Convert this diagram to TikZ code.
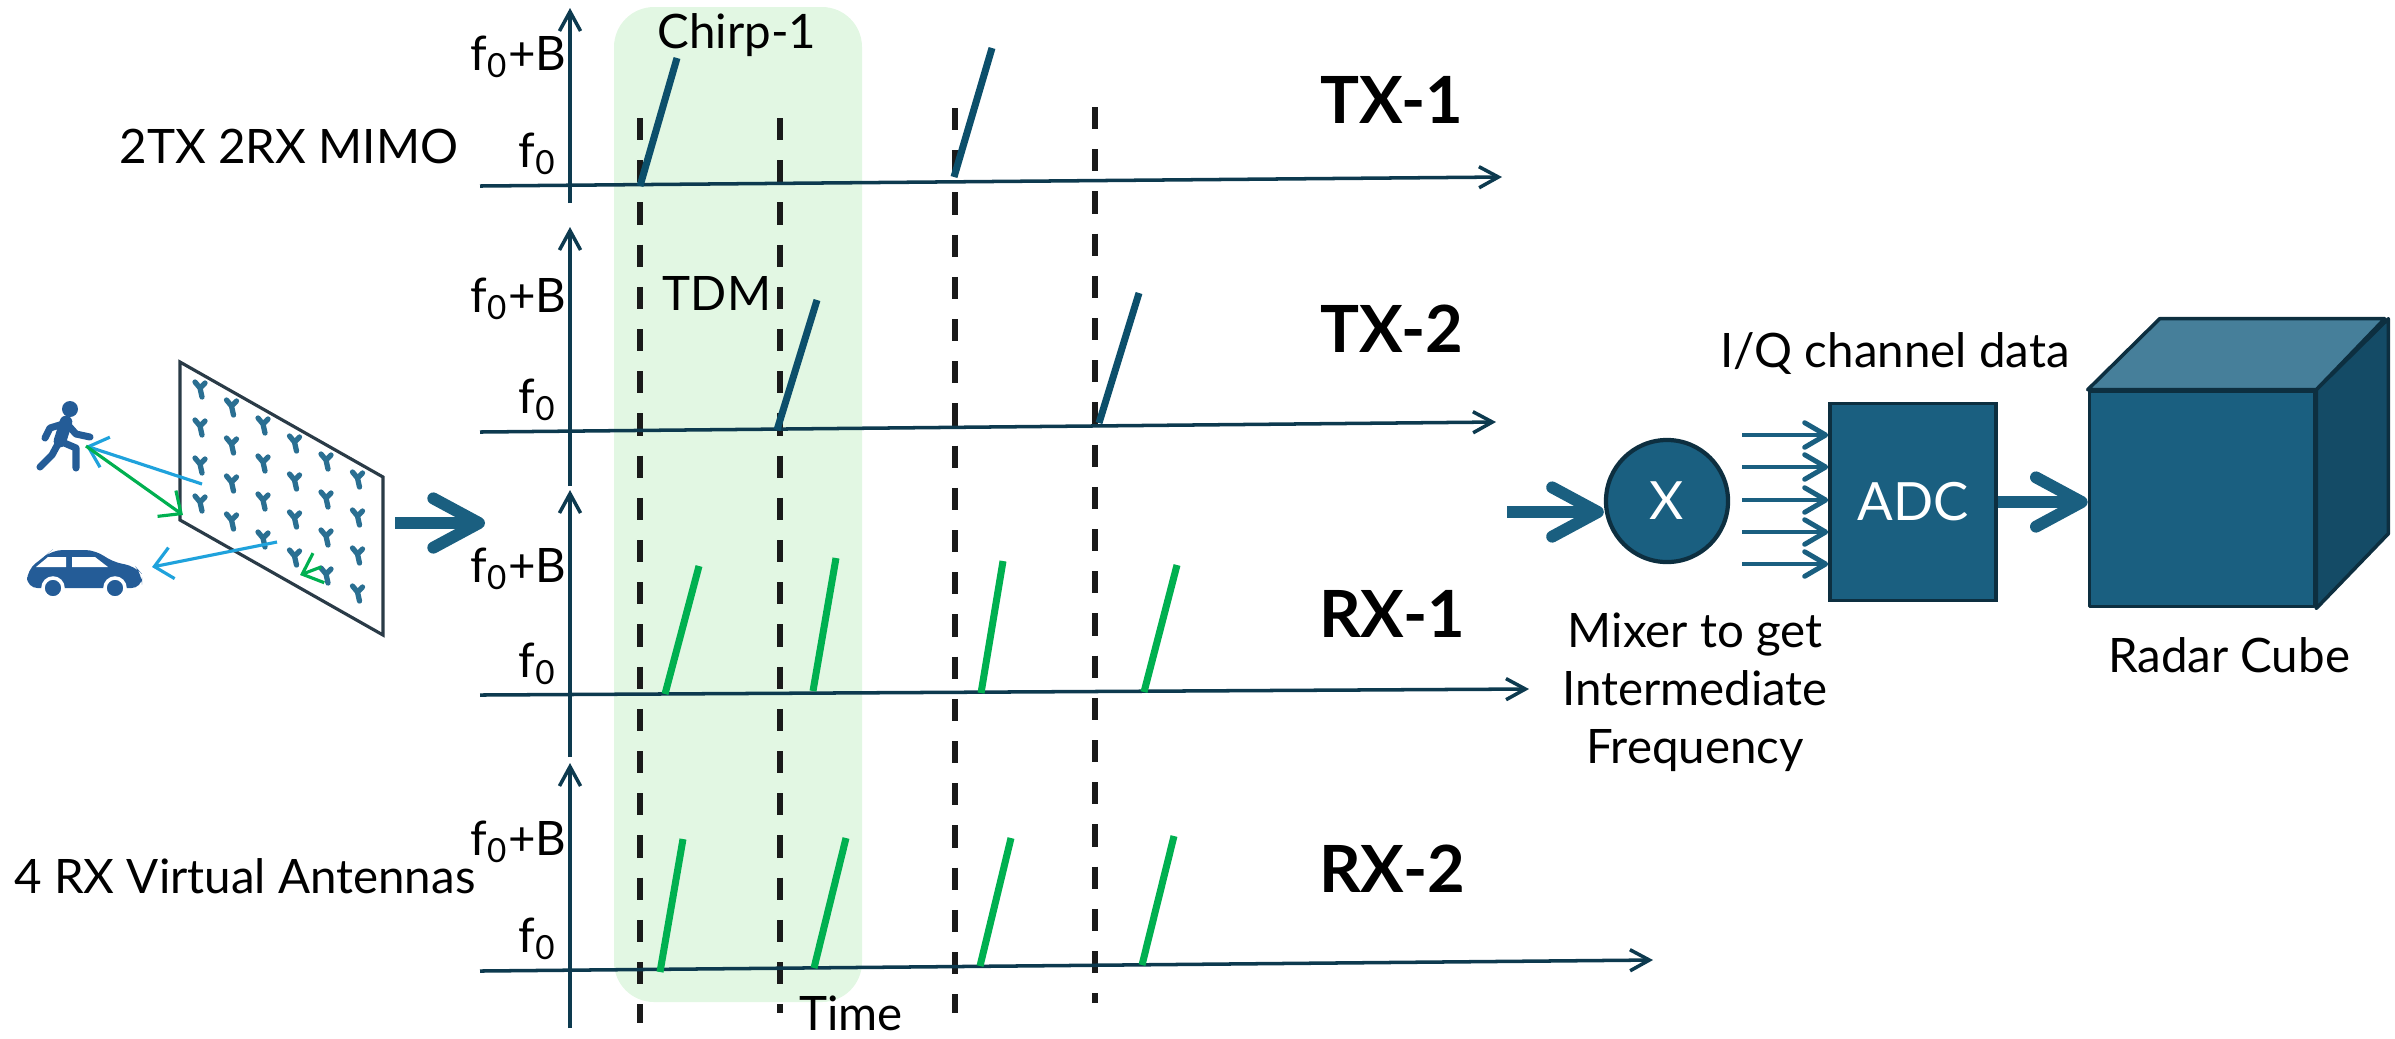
\documentclass[tikz,border=0pt]{standalone}
\usepackage{fontspec}
\setmainfont{Lato}
\usetikzlibrary{arrows.meta,positioning,calc}
\definecolor{axisblue}{HTML}{0D3A4F}
\definecolor{txramp}{HTML}{0C4F6B}
\definecolor{rxgreen}{HTML}{00B050}
\definecolor{blockblue}{HTML}{1A5F80}
\definecolor{blockedge}{HTML}{0D2F40}
\definecolor{cubetop}{HTML}{467F9A}
\definecolor{cubeside}{HTML}{144B66}
\definecolor{chirpbg}{HTML}{E2F7E3}
\definecolor{rayblue}{HTML}{1FA2DC}
\definecolor{iconblue}{HTML}{245C97}
\definecolor{antblue}{HTML}{2A6F92}
\definecolor{panelgray}{HTML}{2A3B47}
\definecolor{slotblack}{HTML}{1A1A1A}

\newcommand{\fzero}{f\textsubscript{0}}

\tikzset{
  lbl/.style={font=\fontsize{13.5}{16.5}\selectfont, inner sep=0pt},
  chan/.style={font=\fontsize{18.5}{20}\selectfont\bfseries, inner sep=0pt},
  axis/.style={axisblue, line width=1pt, -{Straight Barb[length=5.5pt,width=6pt]}},
  txchirp/.style={txramp, line width=2pt},
  rxchirp/.style={rxgreen, line width=2pt},
  slot/.style={slotblack, line width=1.7pt, dash pattern=on 6.3pt off 5.7pt},
  bigarrow/.style={blockblue, line width=3.4pt, -{Straight Barb[length=13pt,width=14pt,round]}},
  iqarrow/.style={blockblue, line width=1.4pt, -{Straight Barb[length=6pt,width=7pt,round]}},
  ray/.style={line width=0.9pt, -{Straight Barb[length=5pt,width=9pt]}},
  mixer/.style={circle, fill=blockblue, draw=blockedge, line width=1.2pt, minimum size=1.22cm,
    inner sep=0pt, text=white, font=\fontsize{15}{18}\selectfont},
  adcbox/.style={rectangle, fill=blockblue, draw=blockedge, line width=1pt, minimum width=1.66cm,
    minimum height=1.97cm, text=white, font=\fontsize{15}{18}\selectfont},
  cubeedge/.style={draw=blockedge, line width=1pt, line join=round},
  ant/.pic={\draw[antblue, line width=1.5pt, line cap=round, line join=round]
    (-5,-6) -- (0,0) -- (5,-5) (0,0) -- (2,9);}
}

\begin{document}
\begin{tikzpicture}[x=0.01cm, y=-0.01cm]
\useasboundingbox (0,0) rectangle (2395,1038);

% chirp-1 window and time slots
\fill[chirpbg, rounded corners=0.4cm] (614,7) rectangle (862,1002);
\foreach \x/\t/\b in {640/118/1023, 780/118/1013, 955/108/1013, 1095/107/1003}
  \draw[slot] (\x,\t) -- (\x,\b);

% four frequency/time axes
\foreach \r/\yl/\xr/\yr/\vt/\vb in {1/186/1502/177/8/203, 2/432/1496/422/227/486,
    3/695/1529/689/490/757, 4/971/1653/960/763/1028} {
  \draw[axis] (480,\yl) -- (\xr,\yr);
  \draw[axis] (570,\vb) -- (570,\vt);
}
\foreach \r/\yb/\yf/\lab/\yc in {1/70/167/TX-1/123, 2/312/413/TX-2/352,
    3/582/677/RX-1/637, 4/855/952/RX-2/892} {
  \node[lbl, anchor=base east] (fb\r) at (567,\yb) {\fzero+B};
  \node[lbl, anchor=base east] (fz\r) at (557,\yf) {\fzero};
  \node[chan, anchor=base] (ch\r) at (1392,\yc) {\lab};
}

% chirps
\foreach \xa/\ya/\xb/\yb in {640/186/677/58, 954/177/992/48, 777/430/817/300, 1099/423/1139/293}
  \draw[txchirp] (\xa,\ya) -- (\xb,\yb);
\foreach \xa/\ya/\xb/\yb in {665/694/699/566, 813/691/836/558, 981/693/1003/561, 1144/692/1177/565,
    660/972/683/839, 814/968/846/838, 980/966/1011/838, 1142/965/1174/836}
  \draw[rxchirp] (\xa,\ya) -- (\xb,\yb);

\node[lbl, anchor=base] (chirp) at (737,48) {Chirp-1};
\node[lbl, anchor=base] (tdm) at (717,310) {TDM};
\node[lbl, anchor=base] (time) at (851,1030) {Time};
\node[lbl, anchor=base] (mimo) at (289,163) {2TX 2RX MIMO};
\node[lbl, anchor=base] (virt) at (245,893) {4 RX Virtual Antennas};

% antenna array with targets
\draw[panelgray, line width=0.9pt, fill=white] (180,362) -- (383,477) -- (383,635) -- (180,520) -- cycle;
\foreach \i in {0,...,5}
  \foreach \j in {0,...,3}
    \pic at (200+31.5*\i, 388+18*\i+38*\j) {ant};

\coordinate (panelA) at (202,484);
\coordinate (panelB) at (183,515);
\coordinate (panelC) at (277,542);
\coordinate (panelD) at (321,567);
\coordinate (panelE) at (300,575);
\coordinate (walker) at (86,446);
\coordinate (carfront) at (152,567);
\draw[ray, rayblue] (panelA) -- (walker);
\draw[ray, rxgreen] (walker) -- (panelB);
\draw[ray, rayblue] (panelC) -- (carfront);
\draw[ray, rxgreen] (panelD) -- (panelE);

% walking person
\fill[iconblue] (70,409) circle (8);
\draw[iconblue, line width=3.6pt, line cap=round] (66,422) -- (60,441);
\draw[iconblue, line width=2pt, line cap=round, line join=round]
  (63,424) -- (50,428) -- (45,438)
  (68,425) -- (76,434) -- (90,437)
  (59,442) -- (52,455) -- (40,467)
  (62,442) -- (76,448) -- (76,468);

% car
\fill[iconblue, rounded corners=3pt] (27,588) -- (27,570) -- (45,556) -- (52,550) -- (96,550)
  -- (112,562) -- (135,566) -- (142,574) -- (142,588) -- cycle;
\fill[white] (36,567) -- (48,557) -- (66,557) -- (66,567) -- cycle;
\fill[white] (72,557) -- (95,557) -- (108,567) -- (72,567) -- cycle;
\fill[iconblue, draw=white, line width=1pt] (53,588) circle (10) (115,588) circle (10);

\coordinate (panelout) at (395,523);
\coordinate (chartin) at (485,523);
\draw[bigarrow] (panelout) -- (chartin);

% mixer, ADC and radar cube
\node[mixer] (mix) at (1667,501) {X};
\node[adcbox] (adc) at (1913,502) {ADC};
\node[rectangle, fill=blockblue, cubeedge, minimum width=2.25cm, minimum height=2.15cm] (cube) at (2202,499) {};
\draw[cubeedge, fill=cubetop] (cube.north west) -- ++(72,-71) -- ++(225,0) -- (cube.north east) -- cycle;
\draw[cubeedge, fill=cubeside] (cube.north east) -- ++(72,-71) -- ++(0,215) -- (cube.south east) -- cycle;

\coordinate (mixin) at (1507,512);
\draw[bigarrow] (mixin) -- (mixin -| mix.west);
\foreach \y [count=\i] in {435,467,500,532,564} {
  \coordinate (iq\i) at (1742,\y);
  \draw[iqarrow] (iq\i) -- (iq\i -| adc.west);
}
\draw[bigarrow] (adc.east) -- (adc.east -| cube.west);

\node[lbl, anchor=base] (iqlbl) at (1895,367) {I/Q channel data};
\node[lbl, align=center, anchor=north] (mixlbl) at (1695,612) {Mixer to get\\Intermediate\\Frequency};
\node[lbl, anchor=base] (cubelbl) at (2229,672) {Radar Cube};
\end{tikzpicture}
\end{document}
